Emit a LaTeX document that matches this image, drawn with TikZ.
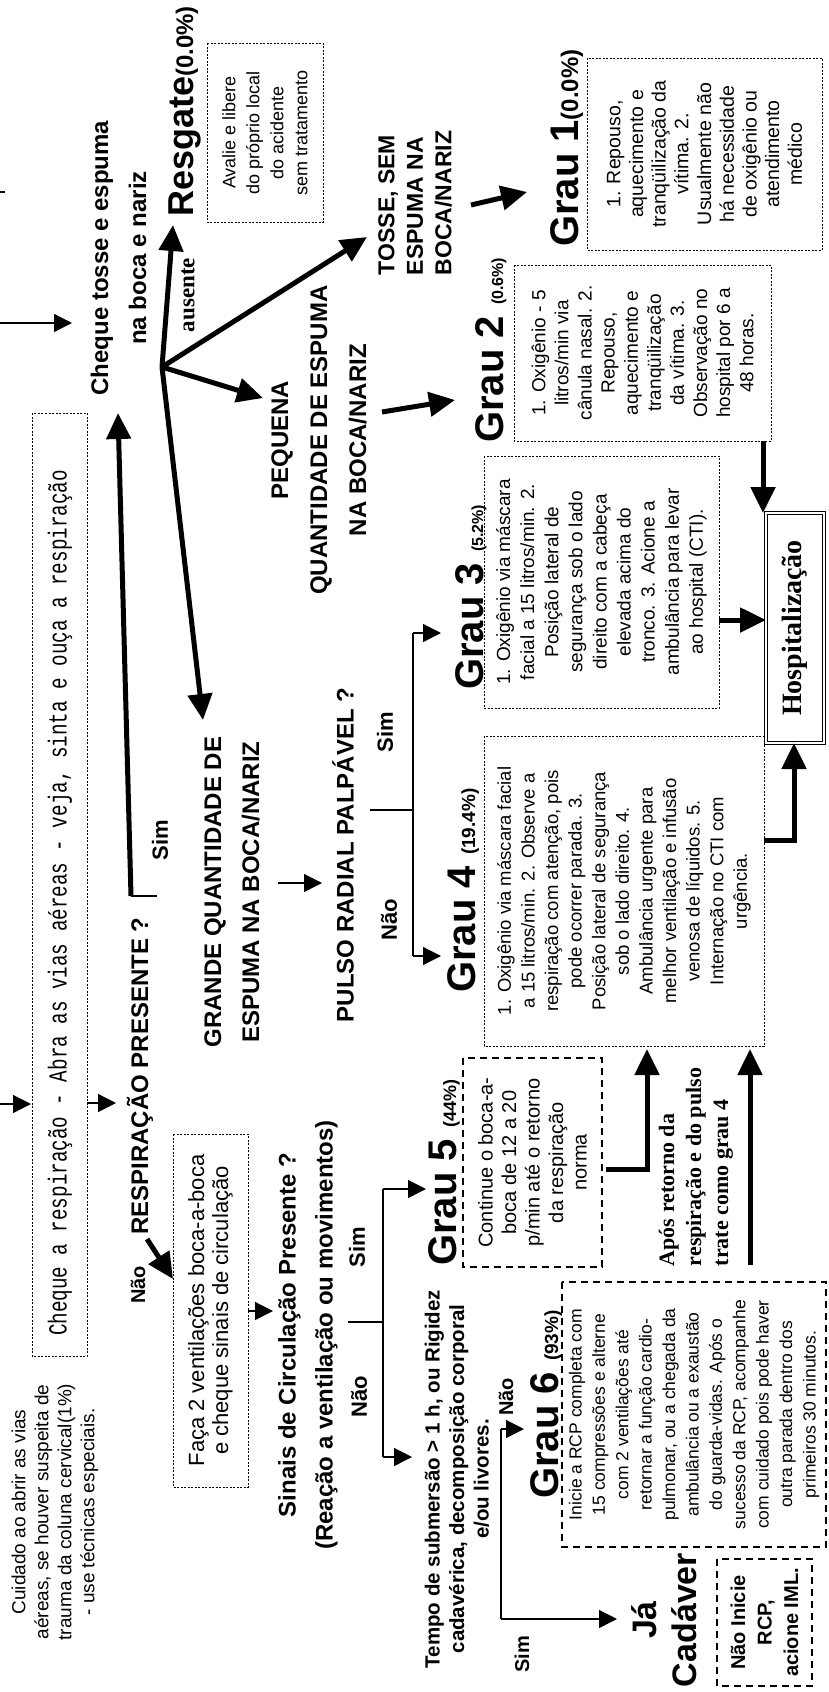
\documentclass[tikz,border=0pt]{standalone}
\usepackage{fontspec}
\setmainfont{Liberation Sans}
\newfontfamily\tnr{Liberation Serif}
\newfontfamily\monof[FakeStretch=0.74]{Liberation Mono}
\usetikzlibrary{arrows.meta}
\newcommand\fsz[2]{\fontsize{#1}{#2}\selectfont}
\begin{document}
\begin{tikzpicture}[x=1pt,y=-1pt,
  rt/.style={rotate=90, inner sep=0pt, align=center},
  head/.style={rt, font=\bfseries\fsz{24}{38}},
  lab/.style={rt, font=\bfseries\fsz{22}{26}},
  body/.style={rt, font=\fsz{18.5}{23.5}},
  dotbox/.style={draw, line width=1pt, dash pattern=on 2pt off 1.5pt},
  dashbox/.style={draw, line width=1.2pt, dash pattern=on 7pt off 5pt},
  thin/.style={line width=1.3pt},
  tarr/.style={line width=1.3pt, -{Triangle[length=18pt,width=18pt]}},
  karr/.style={line width=5pt, -{Triangle[length=26pt,width=24pt]}},
  grau/.style={rotate=90, inner sep=0pt, anchor=base west, font=\bfseries\fsz{40}{44}},
]
\useasboundingbox (0,0) rectangle (829,1692);
\fill[white] (0,0) rectangle (829,1692);

% ---------- left edge entries
\coordinate (tl1) at (0,192); \coordinate (tl2) at (5,192);
\draw[thin] (tl1) -- (tl2);
\coordinate (la) at (0,323); \coordinate (lb) at (72,323);
\draw[tarr] (la) -- (lb);

% ---------- cheque tosse
\node[head] (ctosse) at (118.5,258) {Cheque tosse e espuma\\na boca e nariz};

% ---------- Resgate
\node[grau, font=\bfseries\fsz{36}{40}] (resg) at (193,217) {Resgate{\fsz{24}{28}(0.0\%)}};
\node[body, dotbox, minimum width=179pt, minimum height=116pt, font=\fsz{18}{24}] (resgbox) at (265,132.5)
  {Avalie e libere\\do próprio local\\do acidente\\sem tratamento};

% ---------- hub arrows
\coordinate (hub) at (162,367);
\coordinate (hresg) at (173,225);
\coordinate (htosse) at (367,237);
\coordinate (hpeq) at (263,398);
\coordinate (hgrande) at (203,720);
\draw[karr] (hub) -- (hresg);
\draw[karr] (hub) -- (htosse);
\draw[karr] (hub) -- (hpeq);
\draw[karr] (hub) -- (hgrande);
\node[rt, font=\tnr\bfseries\fsz{23}{26}] (aus) at (188,295) {ausente};

% ---------- TOSSE / PEQUENA
\node[rt, align=left, font=\bfseries\fsz{23}{28.5}] (tosse) at (415,203) {TOSSE, SEM\\ESPUMA NA\\BOCA/NARIZ};
\node[head, font=\bfseries\fsz{24}{39}] (peq) at (319,440) {PEQUENA\\QUANTIDADE DE ESPUMA\\NA BOCA/NARIZ};
\coordinate (t1a) at (471,205); \coordinate (t1b) at (527,192);
\draw[karr] (t1a) -- (t1b);
\coordinate (p2a) at (382,412); \coordinate (p2b) at (455,400);
\draw[karr] (p2a) -- (p2b);

% ---------- Grau titles
\node[grau] (g1t) at (578,247) {Grau 1{\fsz{24}{28}(0.0\%)}};
\node[grau] (g2t) at (503,443) {Grau 2 {\fsz{16}{18}(0.6\%)}};
\node[grau] (g3t) at (483,690) {Grau 3 {\fsz{16}{18}(5.2\%)}};
\node[grau] (g4t) at (475,993) {Grau 4 {\fsz{19}{20}(19.4\%)}};
\node[grau] (g5t) at (456,1266) {Grau 5 {\fsz{18}{20}(44\%)}};
\node[grau] (g6t) at (558,1499) {Grau 6 {\fsz{19}{20}(93\%)}};

% ---------- Grau boxes
\node[body, dotbox, minimum width=192pt, minimum height=235pt, font=\fsz{19.5}{22.7}] (g1) at (704.5,154)
  {1. Repouso,\\aquecimento e\\tranqüilização da\\vítima. 2.\\Usualmente não\\há necessidade\\de oxigênio ou\\atendimento\\médico};
\node[body, dotbox, minimum width=176pt, minimum height=257pt, font=\fsz{19}{23.1}] (g2) at (642.5,353)
  {1. Oxigênio - 5\\litros/min via\\cânula nasal. 2.\\Repouso,\\aquecimento e\\tranqüilização\\da vítima. 3.\\Observação no\\hospital por 6 a\\48 horas.};
\node[body, dotbox, minimum width=252pt, minimum height=235pt, font=\fsz{19}{24.1}] (g3) at (601.5,582)
  {1. Oxigênio via máscara\\facial a 15 litros/min. 2.\\Posição lateral de\\segurança sob o lado\\direito com a cabeça\\elevada acima do\\tronco. 3. Acione a\\ambulância para levar\\ao hospital (CTI).};
\node[body, dotbox, minimum width=310pt, minimum height=280pt, font=\fsz{18.5}{23.6}] (g4) at (624,891)
  {1. Oxigênio via máscara facial\\a 15 litros/min. 2. Observe a\\respiração com atenção, pois\\pode ocorrer parada. 3.\\Posição lateral de segurança\\sob o lado direito. 4.\\Ambulância urgente para\\melhor ventilação e infusão\\venosa de líquidos. 5.\\Internação no CTI com\\urgência.};
\node[body, dashbox, minimum width=209pt, minimum height=139pt, font=\fsz{20}{23.5}] (g5) at (532.5,1162.5)
  {Continue o boca-a-\\boca de 12 a 20\\p/min até o retorno\\da respiração\\norma};
\node[body, dashbox, minimum width=265pt, minimum height=264pt, font=\fsz{17.5}{23.4}] (g6) at (694,1414.5)
  {Inicie a RCP completa com\\15 compressões e alterne\\com 2 ventilações até\\retornar a função cardio-\\pulmonar, ou a chegada da\\ambulância ou a exaustão\\do guarda-vidas. Após o\\sucesso da RCP, acompanhe\\com cuidado pois pode haver\\outra parada dentro dos\\primeiros 30 minutos.};

% ---------- Hospitalização
\node[rt, draw, double, double distance=2.5pt, line width=1pt, minimum width=230pt, minimum height=58pt,
  font=\tnr\bfseries\fsz{28}{30}] (hosp) at (795,628) {Hospitalização};
\coordinate (h2a) at (763,441); \coordinate (h2b) at (763,513);
\draw[karr] (h2a) -- (h2b);
\coordinate (h3a) at (719,620); \coordinate (h3b) at (766,620);
\draw[karr] (h3a) -- (h3b);
\coordinate (h4a) at (764,840); \coordinate (h4m) at (794,840); \coordinate (h4b) at (794,743);
\draw[karr] (h4a) -- (h4m) -- (h4b);

% ---------- Após retorno
\coordinate (r5a) at (606,1169); \coordinate (r5m) at (647,1169); \coordinate (r5b) at (647,1049);
\draw[karr] (r5a) -- (r5m) -- (r5b);
\coordinate (r6a) at (750,1265); \coordinate (r6b) at (750,1049);
\draw[karr] (r6a) -- (r6b);
\node[rt, align=left, font=\tnr\bfseries\fsz{22}{27}] (apos) at (696,1167) {Após retorno da\\respiração e do pulso\\trate como grau 4};

% ---------- Cheque a respiração
\node[rt, dotbox, minimum width=943pt, minimum height=55pt] (chqbox) at (59.5,884.5) {};
\node[rt, font=\monof\fsz{26}{28}] (chqt) at (60,903) {Cheque a respiração - Abra as vias aéreas - veja, sinta e ouça a respiração};
\coordinate (c1a) at (0,1104); \coordinate (c1b) at (31,1104);
\draw[tarr] (c1a) -- (c1b);
\coordinate (c2a) at (87,1103); \coordinate (c2b) at (116,1103);
\draw[tarr] (c2a) -- (c2b);

% ---------- RESPIRAÇÃO PRESENTE
\node[head] (resp) at (140,1076) {RESPIRAÇÃO PRESENTE ?};
\node[lab, font=\bfseries\fsz{20}{24}] (nao1) at (138,1285) {Não};
\node[lab] (sim1) at (160,840) {Sim};
\coordinate (s1a) at (157,896); \coordinate (s1m) at (131,896); \coordinate (s1b) at (118,413);
\draw[thin] (s1a) -- (s1m);
\draw[karr] (s1m) -- (s1b);
\coordinate (n1a) at (147,1239); \coordinate (n1b) at (173,1279);
\draw[karr] (n1a) -- (n1b);

% ---------- Faça 2 ventilações
\node[body, dotbox, minimum width=353pt, minimum height=75pt, font=\fsz{22}{24}] (faca) at (210.5,1310.5)
  {Faça 2 ventilações boca-a-boca\\e cheque sinais de circulação};
\coordinate (f1a) at (248,1311); \coordinate (f1b) at (273,1311);
\draw[tarr] (f1a) -- (f1b);

% ---------- Sinais de circulação
\node[head, font=\bfseries\fsz{24}{37}] (sinais) at (308,1335) {Sinais de Circulação Presente ?\\(Reação a ventilação ou movimentos)};
\coordinate (s0) at (348,1322); \coordinate (s1) at (383,1322);
\coordinate (s5a) at (383,1189); \coordinate (s6a) at (383,1457);
\coordinate (s5b) at (426,1189); \coordinate (s6b) at (412,1457);
\draw[thin] (s0) -- (s1);
\draw[thin] (s5a) -- (s6a);
\draw[tarr] (s5a) -- (s5b);
\draw[tarr] (s6a) -- (s6b);
\node[lab] (sim3) at (357,1247) {Sim};
\node[lab] (nao3) at (359,1397) {Não};

% ---------- GRANDE / PULSO
\node[head] (grande) at (232,892) {GRANDE QUANTIDADE DE\\ESPUMA NA BOCA/NARIZ};
\coordinate (gp1) at (278,883); \coordinate (gp2) at (322,883);
\draw[tarr] (gp1) -- (gp2);
\node[head] (pulso) at (343,855) {PULSO RADIAL PALPÁVEL ?};
\coordinate (p0) at (370,810); \coordinate (p1) at (413,810);
\coordinate (p3a) at (413,633); \coordinate (p4a) at (413,956);
\coordinate (p3b) at (441,633); \coordinate (p4b) at (441,956);
\draw[thin] (p0) -- (p1);
\draw[thin] (p3a) -- (p4a);
\draw[tarr] (p3a) -- (p3b);
\draw[tarr] (p4a) -- (p4b);
\node[lab] (sim2) at (385,732) {Sim};
\node[lab] (nao2) at (389,920) {Não};

% ---------- Tempo de submersão
\node[rt, font=\bfseries\fsz{20.5}{24.5}] (tempo) at (457,1479)
  {Tempo de submersão > 1 h, ou Rigidez\\cadavérica, decomposição corporal\\e/ou livores.};
\coordinate (t0a) at (501,1429); \coordinate (t0b) at (501,1619);
\coordinate (t6) at (524,1429); \coordinate (tc) at (617,1619);
\draw[thin] (t0a) -- (t0b);
\draw[tarr] (t0a) -- (t6);
\draw[tarr] (t0b) -- (tc);
\node[lab, font=\bfseries\fsz{20}{24}] (nao4) at (506,1397) {Não};
\node[lab, font=\bfseries\fsz{20}{24}] (sim4) at (522,1654) {Sim};

% ---------- Já Cadáver
\node[rt, font=\bfseries\fsz{34}{40}] (cad) at (664,1620) {Já\\Cadáver};
\node[rt, dashbox, minimum width=127pt, minimum height=95pt, font=\bfseries\fsz{20}{26.5}] (iml) at (764.5,1622.5)
  {Não Inicie\\RCP,\\acione IML.};

% ---------- Cuidado
\node[rt, font=\fsz{19}{23}] (cuid) at (55,1512)
  {Cuidado ao abrir as vias\\aéreas, se houver suspeita de\\trauma da coluna cervical(1\%)\\- use técnicas especiais.};
\end{tikzpicture}
\end{document}
